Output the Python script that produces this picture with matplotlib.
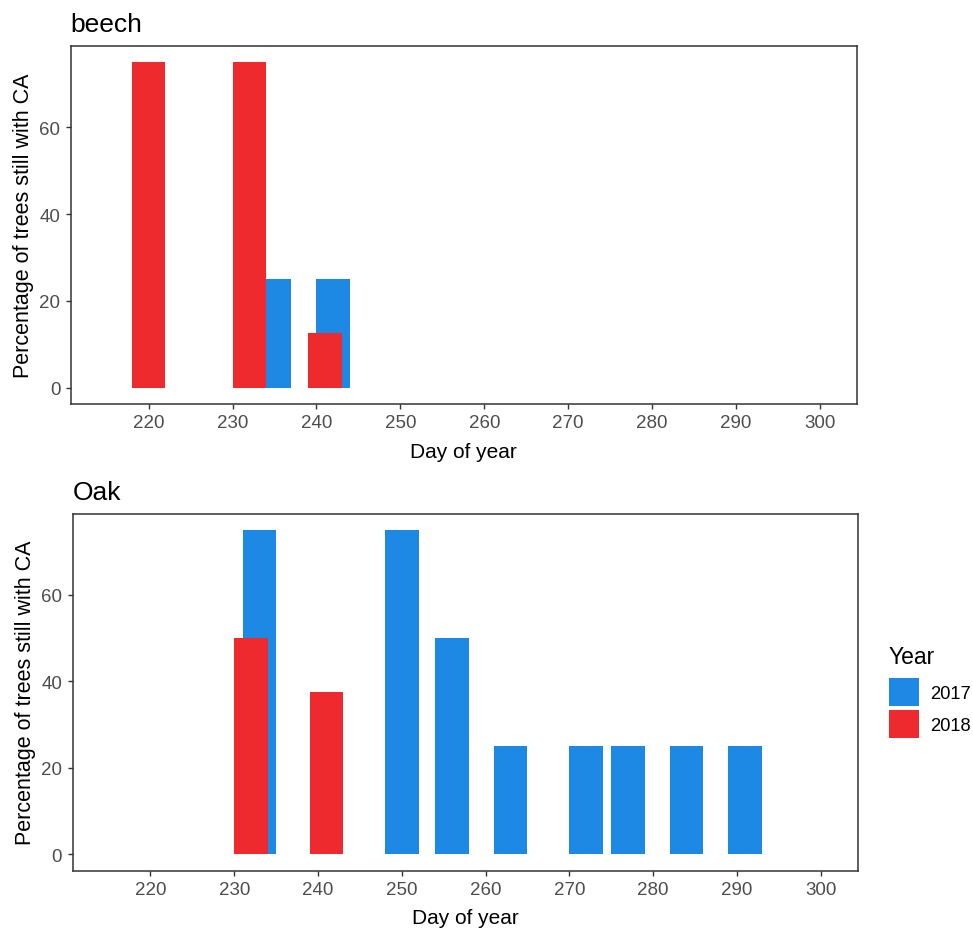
import matplotlib
matplotlib.use("Agg")
from matplotlib import pyplot as plt
from matplotlib.patches import Patch

plt.rcParams['font.family'] = ['Liberation Sans', 'DejaVu Sans']

# beech, percentage of trees still with CA
beech_days_2017 = [235, 242]
beech_vals_2017 = [25, 25]
beech_days_2018 = [220, 232, 241]
beech_vals_2018 = [75, 75, 12.5]

# oak
oak_days_2017 = [233, 250, 256, 263, 272, 277, 284, 291]
oak_vals_2017 = [75, 75, 50, 25, 25, 25, 25, 25]
oak_days_2018 = [232, 241]
oak_vals_2018 = [50, 37.5]

years = ["2017", "2018"]
colors = {"2017": "#1E88E5", "2018": "#EE2A2E"}
xticks = [220, 230, 240, 250, 260, 270, 280, 290, 300]
yticks = [0, 20, 40, 60]

W, H = 973, 929
fig = plt.figure(figsize=(W / 100, H / 100), dpi=100)


def panel(rect, title, d17, v17, d18, v18):
    ax = fig.add_axes(rect)
    ax.bar(d17, v17, width=4, color=colors["2017"], linewidth=0)
    ax.bar(d18, v18, width=4, color=colors["2018"], linewidth=0)
    ax.set_xlim(210.7, 304.4)
    ax.set_ylim(-3.75, 78.75)
    ax.set_xticks(xticks)
    ax.set_yticks(yticks)
    ax.tick_params(length=3.5, width=1, color="#333333", labelcolor="#4D4D4D",
                   labelsize=13.5, pad=4)
    for s in ax.spines.values():
        s.set_color("#333333")
        s.set_linewidth(1.1)
    ax.set_title(title, loc="left", fontsize=19, pad=10.5, x=0.0)
    ax.set_xlabel("Day of year", fontsize=15)
    ax.set_ylabel("Percentage of trees still with CA", fontsize=15.5)
    ax.xaxis.set_label_coords(0.5, -0.105)
    ax.yaxis.set_label_coords(-0.047, 0.5)
    return ax


panel([70.7 / W, 1 - 405 / H, 786 / W, 358 / H], "beech",
      beech_days_2017, beech_vals_2017, beech_days_2018, beech_vals_2018)
panel([72.5 / W, 1 - 871.5 / H, 785 / W, 357 / H], "Oak",
      oak_days_2017, oak_vals_2017, oak_days_2018, oak_vals_2018)

# legend: title as separate text, entries below
fig.text(889 / W, 1 - 658 / H, "Year", fontsize=16.5, ha="left", va="center")
handles = [Patch(facecolor=colors[y], edgecolor="none") for y in years]
fig.legend(handles, years, loc="upper left",
           bbox_to_anchor=(889 / W, 1 - 679 / H), frameon=False,
           fontsize=13.2, handlelength=1.65, handleheight=2.0,
           labelspacing=0.2, handletextpad=0.6, borderpad=0, borderaxespad=0)

fig.savefig("out.png", dpi=100)
